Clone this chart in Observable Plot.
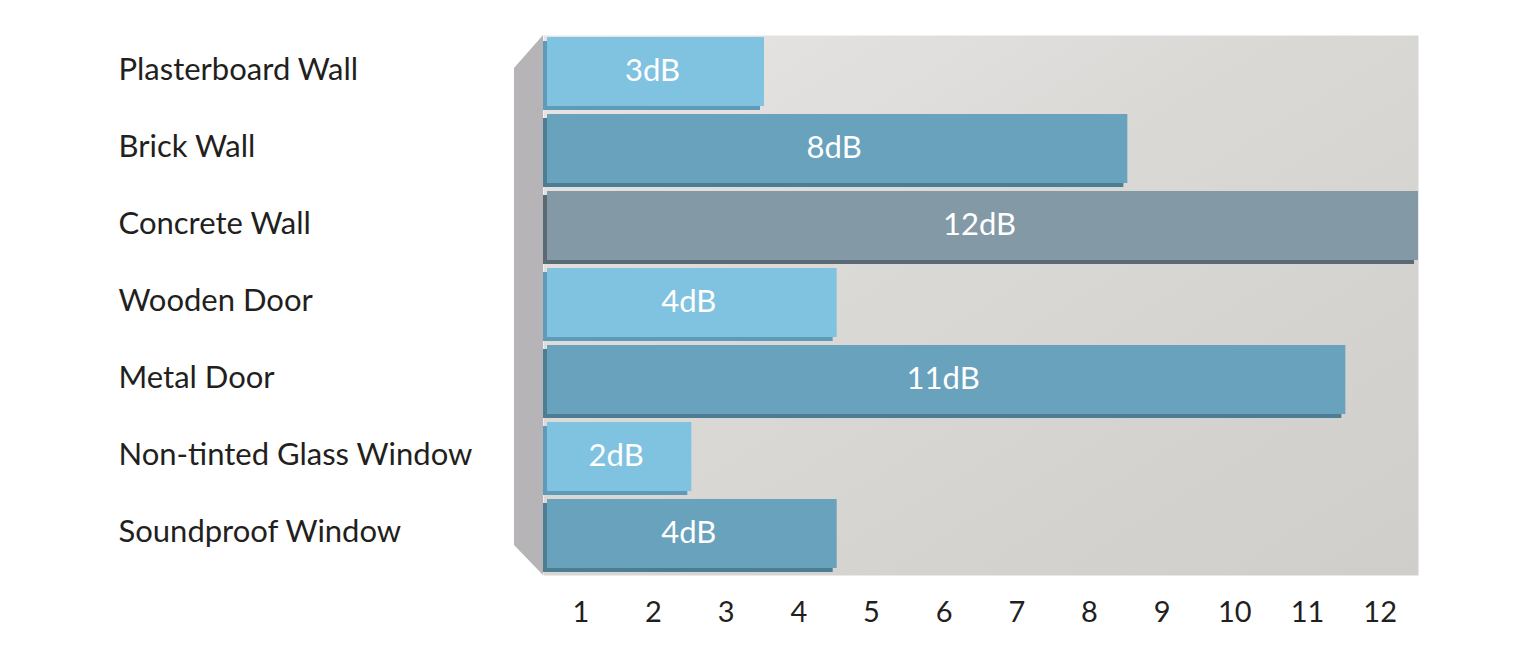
<!DOCTYPE html>
<html>
<head>
<meta charset="utf-8">
<script src="https://cdn.jsdelivr.net/npm/d3@7"></script>
<script src="https://cdn.jsdelivr.net/npm/@observablehq/plot@0.6"></script>
<style>
  html, body { margin: 0; padding: 0; background: #ffffff; }
  #chart svg { display: block; }
</style>
</head>
<body>
<div id="chart"></div>
<script>
const materials = ["Plasterboard Wall", "Brick Wall", "Concrete Wall", "Wooden Door", "Metal Door", "Non-tinted Glass Window", "Soundproof Window"];
const reductions = [3, 8, 12, 4, 11, 2, 4];
const shades = ["light", "mid", "dark", "light", "mid", "light", "mid"];
const tickLabels = [1, 2, 3, 4, 5, 6, 7, 8, 9, 10, 11, 12];

const data = materials.map((m, i) => ({material: m, value: reductions[i], shade: shades[i], label: reductions[i] + "dB"}));

const fillColors = {light: "#80c3e1", mid: "#68a2bd", dark: "#8499a6"};
const shadowColors = {light: "#5f9bb8", mid: "#4d7d92", dark: "#5a6a74"};

const FONT = "Lato, 'Open Sans', sans-serif";
const ns = "http://www.w3.org/2000/svg";

function gradientDefs() {
  const defs = document.createElementNS(ns, "defs");
  defs.innerHTML = `<linearGradient id="panelGrad" x1="0" y1="0" x2="1" y2="1">
      <stop offset="0" stop-color="#e7e6e5"/>
      <stop offset="0.45" stop-color="#d9d8d5"/>
      <stop offset="1" stop-color="#cfcecb"/>
    </linearGradient>`;
  return defs;
}

function sideWall(index, scales, values, dims) {
  const l = dims.marginLeft - 3, t = dims.marginTop, b = dims.height - dims.marginBottom;
  const p = document.createElementNS(ns, "polygon");
  p.setAttribute("points", `${l - 29},${t + 33} ${l},${t} ${l},${b} ${l - 29},${b - 30}`);
  p.setAttribute("fill", "#b6b4b7");
  return p;
}

const chart = Plot.plot({
  width: 1536,
  height: 660,
  marginLeft: 546,
  marginRight: 118,
  marginTop: 35,
  marginBottom: 85,
  style: {background: "#ffffff", fontFamily: FONT, color: "#231f20", overflow: "visible"},
  x: {domain: [0, 12], axis: null},
  y: {domain: materials, range: [35, 570], paddingInner: 0.1, paddingOuter: 0, axis: null},
  marks: [
    gradientDefs,
    sideWall,
    Plot.frame({fill: "url(#panelGrad)", stroke: "none", insetLeft: -3}),
    Plot.barX(data, {x: "value", y: "material", fill: d => shadowColors[d.shade], dx: -3, dy: 4, insetRight: 1}),
    Plot.barX(data, {x: "value", y: "material", fill: d => fillColors[d.shade], insetLeft: 1}),
    Plot.text(data, {x: d => d.value / 2, y: "material", text: "label", fill: "white", fontSize: 31, dx: -3, dy: -1}),
    Plot.text(materials, {y: d => d, text: d => d, frameAnchor: "left", textAnchor: "start", dx: -428, fontSize: 31, fill: "#231f20", dy: -2}),
    Plot.text(tickLabels, {x: d => d - 0.5, text: d => String(d), frameAnchor: "bottom", dy: 46, dx: -2, fontSize: 29, fill: "#231f20"})
  ]
});
document.getElementById("chart").appendChild(chart);
</script>
</body>
</html>
